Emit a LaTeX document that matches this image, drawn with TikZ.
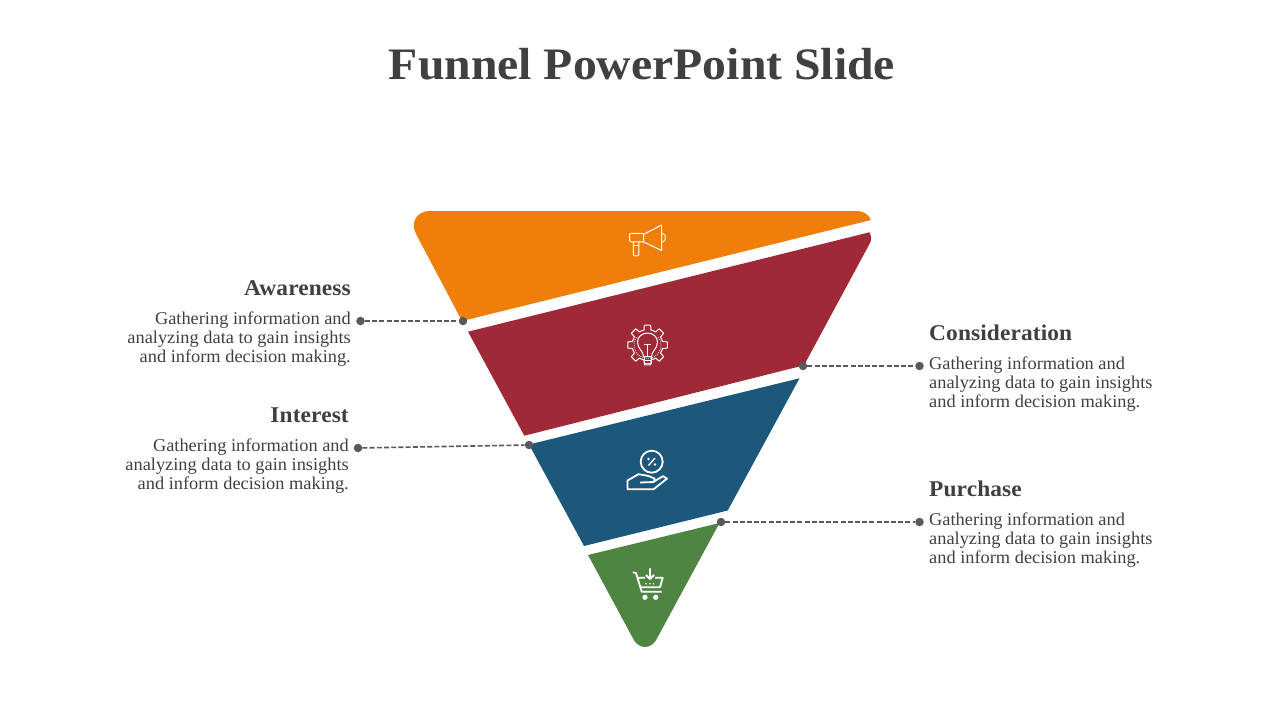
\documentclass[tikz,border=0pt]{standalone}
\usepackage{fontspec}
\setmainfont{Liberation Serif}
\newfontfamily\ttlfont[FakeStretch=1.06]{Liberation Serif}
\newfontfamily\hdfont[FakeStretch=1.04,LetterSpace=0.5]{Liberation Serif}
\newfontfamily\bdfont[FakeStretch=1.02]{Liberation Serif}
\definecolor{cOrange}{HTML}{F07F09}
\definecolor{cRed}{HTML}{9F2936}
\definecolor{cBlue}{HTML}{1B587C}
\definecolor{cGreen}{HTML}{4E8542}
\definecolor{cText}{HTML}{404040}
\definecolor{cDot}{HTML}{595959}
\tikzset{
  x=1pt,y=-1pt,
  titletext/.style={font=\fontsize{45}{50}\selectfont\ttlfont\bfseries,text=cText,inner sep=0pt},
  headtext/.style={font=\fontsize{22.5}{26}\selectfont\hdfont\bfseries,text=cText,inner sep=0pt},
  bodytext/.style={font=\fontsize{18}{19}\selectfont\bdfont,text=cText,inner sep=0pt},
  dotnode/.style={circle,fill=cDot,draw=none,minimum size=8.5pt,inner sep=0pt},
  leader/.style={draw=cDot,line width=1.6pt,dash pattern=on 5pt off 2.2pt},
  iconthin/.style={draw=white,line width=1pt,line join=round,line cap=round},
  iconthick/.style={draw=white,line width=1.8pt,line join=round},
}
\begin{document}
\begin{tikzpicture}
\useasboundingbox (0,0) rectangle (1280,720);
\fill[white] (0,0) rectangle (1280,720);
\node[titletext] (title) at (642,64) {Funnel PowerPoint Slide};
% funnel
\fill[cOrange] (430,211) -- (856,211) .. controls (864,211) and (869,215) .. (871,220) -- (462,321) -- (416,234) .. controls (410,222) and (417,211) .. (430,211) -- cycle;
\fill[cRed] (468,331.7) -- (869.5,232.3) .. controls (871.5,236) and (871.5,240) .. (870,243) -- (804,365.3) -- (524.3,435.7) -- cycle;
\fill[cBlue] (529,444.5) -- (799.5,378.3) -- (727.7,510.5) -- (584,546) -- cycle;
\fill[cGreen] (588,555) -- (719.5,523) -- (658,636.5) .. controls (655,643) and (651,647) .. (645,647) .. controls (639,647) and (635,643) .. (632,636.5) -- cycle;
% megaphone
\draw[iconthin] (631.5,233.3) -- (643.7,233.3) -- (643.7,241.8) -- (631.5,241.8) .. controls (629.5,241.8) and (629.5,241) .. (629.5,239.5) -- (629.5,235.5) .. controls (629.5,234) and (629.5,233.3) .. (631.5,233.3) -- cycle;
\draw[iconthin] (643.7,234.3) -- (661.7,225) -- (661.7,250.5) -- (643.7,242);
\draw[iconthin] (662.5,233.5) .. controls (666.5,234) and (666.5,241.5) .. (662.5,242);
\draw[iconthin] (633.3,242) -- (633.3,254.5) .. controls (633.3,256.5) and (638.8,256.5) .. (638.8,254.5) -- (638.8,242);
\draw[iconthin] (633.3,245) -- (638.8,245);
% gear + bulb
\begin{scope}[shift={(647.5,345)}]
\foreach \a in {90,135,180,225,270,315,0,45}{
  \draw[iconthin] (\a-13:15.5) -- (\a-9:20) -- (\a+9:20) -- (\a+13:15.5) -- (\a+32:15.5);
}
\draw[white,line width=.8pt,dash pattern=on .8pt off 1.2pt] (215:13.5) arc (215:-35:13.5);
\draw[iconthin] (-4,11.5) .. controls (-4,6) and (-10,4) .. (-10,-3) .. controls (-10,-8.5) and (-5,-12) .. (0,-12) .. controls (5,-12) and (10,-8.5) .. (10,-3) .. controls (10,4) and (4,6) .. (4,11.5) -- cycle;
\draw[iconthin] (-3.5,11.5) -- (-3.5,18) -- (3.5,18) -- (3.5,11.5) (-3.5,15) -- (3.5,15);
\draw[iconthin] (0,11.5) -- (0,0) (-3,-1) -- (3,-1);
\end{scope}
% hand + percent
\draw[iconthick] (651.7,461.7) circle (11);
\draw[white,line width=1.4pt] (648.5,465.5) -- (655,458);
\fill[white] (648.5,459) circle (1.3) (655,464.5) circle (1.3);
\draw[iconthick] (627.5,489.3) -- (653.5,489.3) -- (667,478.6) -- (663,476.2) -- (654,481.5) -- (654.5,478.5) -- (648,475.8) -- (638.5,474.2) -- (627.5,480.5) -- cycle;
\draw[iconthick] (640,482.5) -- (654,482);
% cart
\draw[iconthick] (632.7,572.3) -- (636,573) -- (641.7,591.7) -- (661.7,591.7);
\draw[iconthick] (638,577.7) -- (645,577.7) (655,577.7) -- (662.7,577.7) -- (660,587.3) -- (640.5,587.3);
\draw[iconthick] (650,568.3) -- (650,579) (646,575) -- (650,579) -- (654,575);
\fill[white] (645,597.3) circle (2.6) (655.7,597.3) circle (2.6);
\fill[white] (646,583.7) circle (.9) (650,583.7) circle (.9) (653.5,583.7) circle (.9);
% labels left
\node[headtext,anchor=east] (h1) at (351,288) {Awareness};
\node[bodytext,anchor=east,align=right] (b1) at (351,339) {Gathering information and\\analyzing data to gain insights\\and inform decision making.};
\node[headtext,anchor=east] (h2) at (349,415) {Interest};
\node[bodytext,anchor=east,align=right] (b2) at (349,466) {Gathering information and\\analyzing data to gain insights\\and inform decision making.};
\node[headtext,anchor=west] (h3) at (929,333) {Consideration};
\node[bodytext,anchor=west,align=left] (b3) at (929,384) {Gathering information and\\analyzing data to gain insights\\and inform decision making.};
\node[headtext,anchor=west] (h4) at (929,489) {Purchase};
\node[bodytext,anchor=west,align=left] (b4) at (929,540) {Gathering information and\\analyzing data to gain insights\\and inform decision making.};
% leaders
\node[dotnode] (a1) at (360.5,321) {};
\node[dotnode] (a2) at (463,321) {};
\node[dotnode] (i1) at (358,448) {};
\node[dotnode] (i2) at (529,445) {};
\node[dotnode] (c1) at (803,366) {};
\node[dotnode] (c2) at (919.5,366) {};
\node[dotnode] (p1) at (721,522) {};
\node[dotnode] (p2) at (919.5,522) {};
\draw[leader] (a1) -- (a2);
\draw[leader] (i1) -- (i2);
\draw[leader] (c1) -- (c2);
\draw[leader] (p1) -- (p2);
\end{tikzpicture}
\end{document}
